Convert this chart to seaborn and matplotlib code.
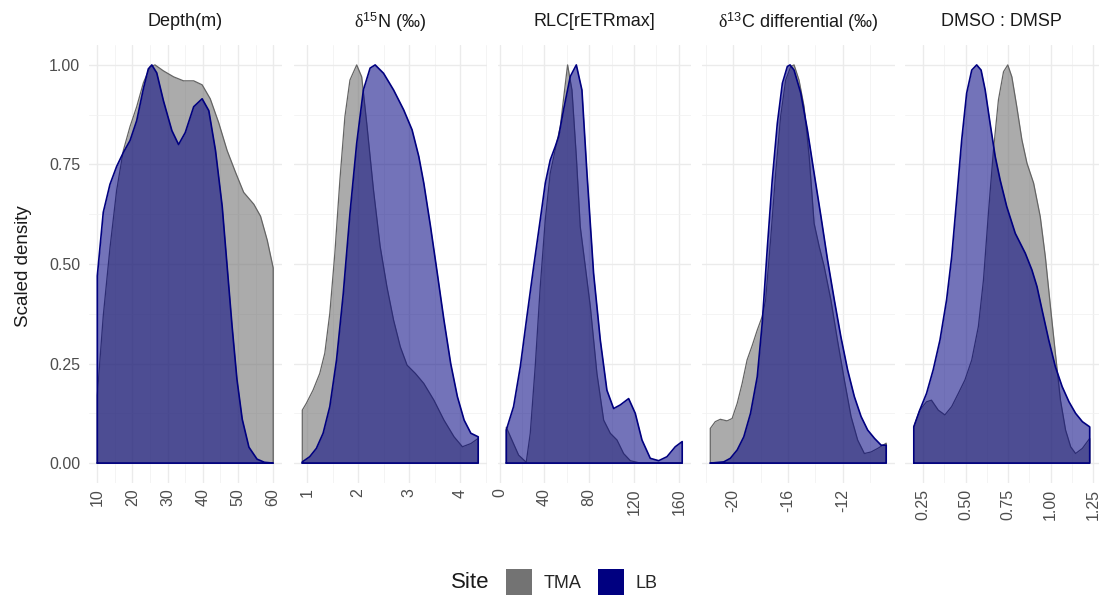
import numpy as np
import pandas as pd
import matplotlib
matplotlib.use("Agg")
import matplotlib.pyplot as plt
from matplotlib.patches import Patch
import seaborn as sns

# ---------------- data (scaled density curves) ----------------
sites = ["TMA", "LB"]
site_colors = ["#737373", "#000080"]

titles = [r"Depth(m)",
          r"$\mathrm{\delta}^{\mathsf{15}}$N (‰)",
          r"RLC[rETRmax]",
          r"$\mathrm{\delta}^{\mathsf{13}}$C differential (‰)",
          r"DMSO : DMSP"]

# Depth(m)
depth_tma_x = [10, 11.7, 13.6, 15.5, 17.4, 19.3, 21.2, 23.1, 25.0, 26.4, 28.8, 31.7, 34.5,
               37.4, 39.8, 42.1, 44.5, 46.9, 49.3, 51.6, 54.5, 56.4, 58.3, 60]
depth_tma_y = [0.17, 0.37, 0.54, 0.685, 0.785, 0.845, 0.895, 0.955, 0.995, 1.0, 0.985, 0.97, 0.96,
               0.96, 0.95, 0.915, 0.855, 0.785, 0.73, 0.68, 0.65, 0.62, 0.56, 0.49]
depth_lb_x = [10, 11.7, 13.6, 15.5, 17.4, 19.3, 21.2, 23.1, 24.5, 25.5, 26.9, 28.8, 31.2, 33.1,
              35.0, 37.4, 39.8, 41.7, 43.6, 45.5, 46.9, 48.3, 49.7, 51.2, 53.1, 55.4, 57.5, 60]
depth_lb_y = [0.47, 0.63, 0.70, 0.745, 0.78, 0.81, 0.86, 0.94, 0.99, 1.0, 0.98, 0.91, 0.835, 0.80,
              0.83, 0.895, 0.915, 0.885, 0.785, 0.645, 0.495, 0.345, 0.21, 0.11, 0.04, 0.01, 0.002, 0.0]

# d15N
n15_tma_x = [0.908, 0.987, 1.118, 1.25, 1.349, 1.447, 1.546, 1.645, 1.743, 1.842, 1.974, 2.072,
             2.171, 2.303, 2.434, 2.566, 2.697, 2.829, 2.961, 3.125, 3.289, 3.487, 3.684, 3.882,
             4.046, 4.211, 4.355]
n15_tma_y = [0.133, 0.15, 0.183, 0.225, 0.276, 0.376, 0.527, 0.711, 0.87, 0.962, 1.0, 0.97,
             0.853, 0.686, 0.544, 0.443, 0.359, 0.292, 0.246, 0.225, 0.2, 0.158, 0.108, 0.066,
             0.041, 0.049, 0.062]
n15_lb_x = [0.908, 1.053, 1.184, 1.316, 1.447, 1.579, 1.711, 1.842, 1.974, 2.105, 2.237, 2.336,
            2.5, 2.697, 2.895, 3.059, 3.191, 3.289, 3.421, 3.553, 3.684, 3.816, 3.947, 4.079,
            4.211, 4.355]
n15_lb_y = [0.003, 0.016, 0.037, 0.075, 0.142, 0.259, 0.426, 0.627, 0.803, 0.937, 0.992, 1.0,
            0.979, 0.937, 0.887, 0.837, 0.77, 0.703, 0.594, 0.477, 0.359, 0.25, 0.167, 0.108,
            0.075, 0.066]

# RLC rETRmax
rlc_tma_x = [6.0, 11.0, 17.0, 23.8, 27.4, 31.8, 36.3, 40.8, 45.2, 49.7, 54.2, 57.7, 60.7, 64.6,
             68.5, 72.0, 76.5, 81.0, 86.9, 92.9, 98.8, 104.8, 110.7, 116.7, 125.6, 163.0]
rlc_tma_y = [0.09, 0.058, 0.02, 0.002, 0.075, 0.242, 0.443, 0.611, 0.728, 0.787, 0.845, 0.929,
             1.0, 0.937, 0.77, 0.594, 0.494, 0.393, 0.225, 0.108, 0.075, 0.058, 0.024, 0.006,
             0.0, 0.0]
rlc_lb_x = [6.0, 12.5, 18.5, 24.4, 30.4, 36.3, 40.8, 45.2, 49.7, 52.7, 57.1, 63.1, 68.5, 73.5,
            78.0, 83.9, 89.9, 95.8, 101.8, 107.7, 115.2, 121.1, 127.1, 134.5, 142.0, 149.4,
            156.8, 163.0]
rlc_lb_y = [0.083, 0.142, 0.242, 0.368, 0.493, 0.611, 0.703, 0.761, 0.795, 0.82, 0.887, 0.971,
            1.0, 0.937, 0.728, 0.477, 0.309, 0.183, 0.137, 0.146, 0.162, 0.125, 0.058, 0.012,
            0.006, 0.016, 0.041, 0.054]

# d13C differential
c13_tma_x = [-21.66, -21.3, -20.93, -20.44, -20.07, -19.7, -19.34, -18.98, -18.6, -18.24,
             -17.88, -17.63, -17.27, -16.9, -16.54, -16.17, -15.8, -15.56, -15.2, -14.83,
             -14.46, -14.1, -13.73, -13.37, -12.88, -12.4, -11.9, -11.41, -10.93, -10.44,
             -9.95, -9.46, -8.85]
c13_tma_y = [0.087, 0.104, 0.11, 0.106, 0.112, 0.15, 0.2, 0.259, 0.296, 0.334, 0.368, 0.41,
             0.56, 0.728, 0.87, 0.962, 0.996, 1.0, 0.962, 0.895, 0.77, 0.602, 0.544, 0.494,
             0.41, 0.309, 0.209, 0.117, 0.058, 0.024, 0.028, 0.037, 0.05]
c13_lb_x = [-21.66, -20.68, -20.2, -19.7, -19.22, -18.73, -18.24, -17.88, -17.5, -17.15,
            -16.78, -16.41, -16.05, -15.85, -15.56, -15.07, -14.59, -14.1, -13.6, -13.12,
            -12.63, -12.15, -11.66, -11.17, -10.68, -10.2, -9.7, -9.22, -8.85]
c13_lb_y = [0.0, 0.003, 0.012, 0.033, 0.066, 0.125, 0.217, 0.351, 0.544, 0.711, 0.853, 0.954,
            0.996, 1.0, 0.987, 0.929, 0.837, 0.728, 0.619, 0.51, 0.41, 0.317, 0.234, 0.167,
            0.117, 0.083, 0.062, 0.045, 0.045]

# DMSO:DMSP
dms_tma_x = [0.195, 0.23, 0.27, 0.299, 0.339, 0.378, 0.418, 0.457, 0.496, 0.536, 0.575, 0.605,
             0.634, 0.664, 0.693, 0.723, 0.748, 0.772, 0.801, 0.831, 0.861, 0.9, 0.939, 0.969,
             0.999, 1.028, 1.058, 1.088, 1.118, 1.147, 1.187, 1.23]
dms_tma_y = [0.091, 0.133, 0.154, 0.158, 0.133, 0.121, 0.142, 0.175, 0.209, 0.259, 0.343, 0.46,
             0.627, 0.787, 0.912, 0.983, 1.0, 0.97, 0.895, 0.812, 0.753, 0.703, 0.619, 0.518,
             0.393, 0.276, 0.158, 0.083, 0.041, 0.024, 0.037, 0.062]
dms_lb_x = [0.195, 0.23, 0.27, 0.309, 0.349, 0.388, 0.418, 0.447, 0.477, 0.506, 0.536, 0.565,
            0.591, 0.615, 0.644, 0.674, 0.703, 0.742, 0.792, 0.851, 0.89, 0.92, 0.95, 0.989,
            1.028, 1.068, 1.108, 1.147, 1.187, 1.23]
dms_lb_y = [0.091, 0.133, 0.175, 0.234, 0.309, 0.41, 0.518, 0.661, 0.812, 0.929, 0.987, 1.0,
            0.987, 0.937, 0.853, 0.77, 0.711, 0.644, 0.577, 0.527, 0.485, 0.443, 0.384, 0.309,
            0.242, 0.192, 0.154, 0.125, 0.104, 0.091]

# tick breaks / labels
depth_ticks = [10, 20, 30, 40, 50, 60]
n15_ticks = [1, 2, 3, 4]
rlc_ticks = [0, 40, 80, 120, 160]
c13_ticks = [-20, -16, -12]
dms_ticks = [0.25, 0.50, 0.75, 1.00, 1.25]
depth_labels = ["10", "20", "30", "40", "50", "60"]
n15_labels = ["1", "2", "3", "4"]
rlc_labels = ["0", "40", "80", "120", "160"]
c13_labels = ["-20", "-16", "-12"]
dms_labels = ["0.25", "0.50", "0.75", "1.00", "1.25"]
y_ticks = [0.0, 0.25, 0.5, 0.75, 1.0]
y_labels = ["0.00", "0.25", "0.50", "0.75", "1.00"]

panels = [
    (depth_tma_x, depth_tma_y, depth_lb_x, depth_lb_y, depth_ticks, depth_labels),
    (n15_tma_x, n15_tma_y, n15_lb_x, n15_lb_y, n15_ticks, n15_labels),
    (rlc_tma_x, rlc_tma_y, rlc_lb_x, rlc_lb_y, rlc_ticks, rlc_labels),
    (c13_tma_x, c13_tma_y, c13_lb_x, c13_lb_y, c13_ticks, c13_labels),
    (dms_tma_x, dms_tma_y, dms_lb_x, dms_lb_y, dms_ticks, dms_labels),
]

# ---------------- style ----------------
sns.set_theme(style="white")
plt.rcParams['font.family'] = ['Liberation Sans', 'DejaVu Sans']
plt.rcParams['mathtext.fontset'] = 'custom'
plt.rcParams['mathtext.rm'] = 'Liberation Serif'
plt.rcParams['mathtext.sf'] = 'Liberation Sans'
plt.rcParams['mathtext.it'] = 'Liberation Serif:italic'

W, H = 1103, 602
fig = plt.figure(figsize=(W / 100, H / 100), dpi=100)
fig.patch.set_facecolor("white")

lefts = [88.5, 293.5, 497.5, 701.5, 905.0]
pw = 193.5
top_px, bot_px = 45, 483
alphas = [0.6, 0.55]
edge_colors = ["#646464", "#000080"]

for i, (tx, ty, lx, ly, ticks, tlabels) in enumerate(panels):
    ax = fig.add_axes([lefts[i] / W, 1 - bot_px / H, pw / W, (bot_px - top_px) / H])
    ax.set_facecolor("white")
    allx = tx + lx
    lo, hi = min(allx), max(allx)
    ex = 0.05 * (hi - lo)
    ax.set_xlim(lo - ex, hi + ex)
    ax.set_ylim(-0.05, 1.05)

    # gridlines (major + minor like ggplot)
    step = ticks[1] - ticks[0]
    minor = [t + step / 2 for t in [ticks[0] - step] + ticks]
    minor = [m for m in minor if lo - ex <= m <= hi + ex]
    ax.set_xticks(ticks)
    ax.set_xticks(minor, minor=True)
    ax.set_yticks(y_ticks)
    ax.set_yticks([0.125, 0.375, 0.625, 0.875], minor=True)
    ax.grid(which="major", color="#EBEBEB", lw=1.0)
    ax.grid(which="minor", color="#F2F2F2", lw=0.6)
    ax.set_axisbelow(True)
    for s in ax.spines.values():
        s.set_visible(False)
    ax.tick_params(which="both", length=0)
    ax.set_xticklabels(tlabels, rotation=90, color="#4D4D4D", fontsize=11.5)
    ax.tick_params(axis="x", pad=4)
    if i == 0:
        ax.set_yticklabels(y_labels, color="#4D4D4D", fontsize=11.5)
        ax.tick_params(axis="y", pad=6)
    else:
        ax.set_yticklabels([])

    for k, (xs, ys) in enumerate([(tx, ty), (lx, ly)]):
        ax.fill_between(xs, ys, 0, color=site_colors[k], alpha=alphas[k], lw=0, zorder=2 + k)
        px = [xs[0]] + list(xs) + [xs[-1], xs[0]]
        py = [0.0] + list(ys) + [0.0, 0.0]
        df = pd.DataFrame({"x": px, "y": py})
        sns.lineplot(data=df, x="x", y="y", sort=False, estimator=None, ax=ax,
                     color=edge_colors[k], lw=1.2 if k == 1 else 0.9, zorder=2.5 + k)
    ax.set_xlabel("")
    ax.set_ylabel("")

    fig.text((lefts[i] + pw / 2) / W, 1 - 22 / H, titles[i], ha="center", va="center",
             fontsize=13, color="#1A1A1A")

fig.text(24 / W, 1 - 266 / H, "Scaled density", rotation=90, ha="center", va="center",
         fontsize=13.5, color="#1A1A1A")

# legend
handles = [Patch(facecolor=site_colors[0], edgecolor="none"),
           Patch(facecolor=site_colors[1], edgecolor="none")]
fig.text(451 / W, 1 - 583 / H, "Site", ha="left", va="center", fontsize=16, color="#1A1A1A")
fig.legend(handles, sites, loc="center left", bbox_to_anchor=(506 / W, 1 - 582 / H),
           ncol=2, frameon=False, fontsize=13, handlelength=1.45, handleheight=1.9,
           handletextpad=0.65, columnspacing=0.9, borderpad=0, borderaxespad=0)

fig.savefig("out.png", dpi=100, facecolor="white")
